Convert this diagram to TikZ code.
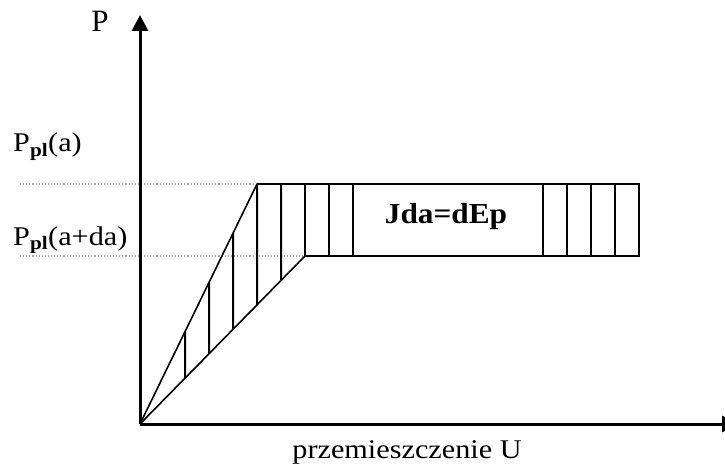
\documentclass[tikz,border=0pt]{standalone}
\usepackage{fontspec}
\setmainfont{Liberation Serif}
\usetikzlibrary{arrows.meta,calc}
\begin{document}
\begin{tikzpicture}[x=1pt,y=-1pt,
  axis/.style={line width=3pt,-{Triangle[length=16pt,width=16pt]}},
  slope/.style={line width=1.6pt},
  hatch/.style={line width=2pt},
  guide/.style={gray!70,line width=1.1pt,dotted},
  lbl/.style={inner sep=0pt,font=\fontsize{27}{31}\selectfont},
  boxlbl/.style={inner sep=0pt,font=\fontsize{29}{33}\selectfont\bfseries}]
\useasboundingbox (0,0) rectangle (725,465);
\clip (0,0) rectangle (725,465);
\fill[white] (0,0) rectangle (725,465);
% key points
\coordinate (O) at (140,424);
\coordinate (Ytop) at (140,15);
\coordinate (Xend) at (738,424);
\coordinate (A) at (257,184);
\coordinate (B) at (305,256);
\coordinate (C) at (639,184);
\coordinate (D) at (639,256);
\coordinate (G1) at (20,184);
\coordinate (G2) at (20,256);
% guide lines
\draw[guide] (G1) -- (A);
\draw[guide] (G2) -- (B);
% axes
\draw[axis] (O) -- (Ytop);
\draw[axis] (O) -- (Xend);
% slopes
\draw[slope] (O) -- (A);
\draw[slope] (O) -- (B);
% plateau band
\draw[hatch] (A) -- (C) -- (D) -- (B);
% hatching in triangle
\foreach \x in {185,209,233}{
  \draw[hatch] ($(O)!{(\x-140)/117}!(A)$) -- ($(O)!{(\x-140)/165}!(B)$);
}
\draw[hatch] (A) -- ($(O)!{117/165}!(B)$);
\draw[hatch] (281,184) -- ($(O)!{141/165}!(B)$);
\foreach \x in {305,329,353,543,567,591,615}{
  \draw[hatch] (\x,184) -- (\x,256);
}
% labels
\node[lbl,font=\fontsize{31}{35}\selectfont] (P) at (100,21) {P};
\node[lbl,anchor=base west] (Pa) at (13,152) {\scalebox{1.12}[1]{P\textsubscript{\textbf{pl}}(a)}};
\node[lbl,anchor=base west] (Pda) at (13,245) {\scalebox{1.12}[1]{P\textsubscript{\textbf{pl}}(a+da)}};
\node[boxlbl] (J) at (446,217) {\scalebox{1.08}[1]{Jda=dEp}};
\node[lbl,anchor=base] (U) at (407,458) {\scalebox{1.12}[1]{przemieszczenie U}};
\end{tikzpicture}
\end{document}
